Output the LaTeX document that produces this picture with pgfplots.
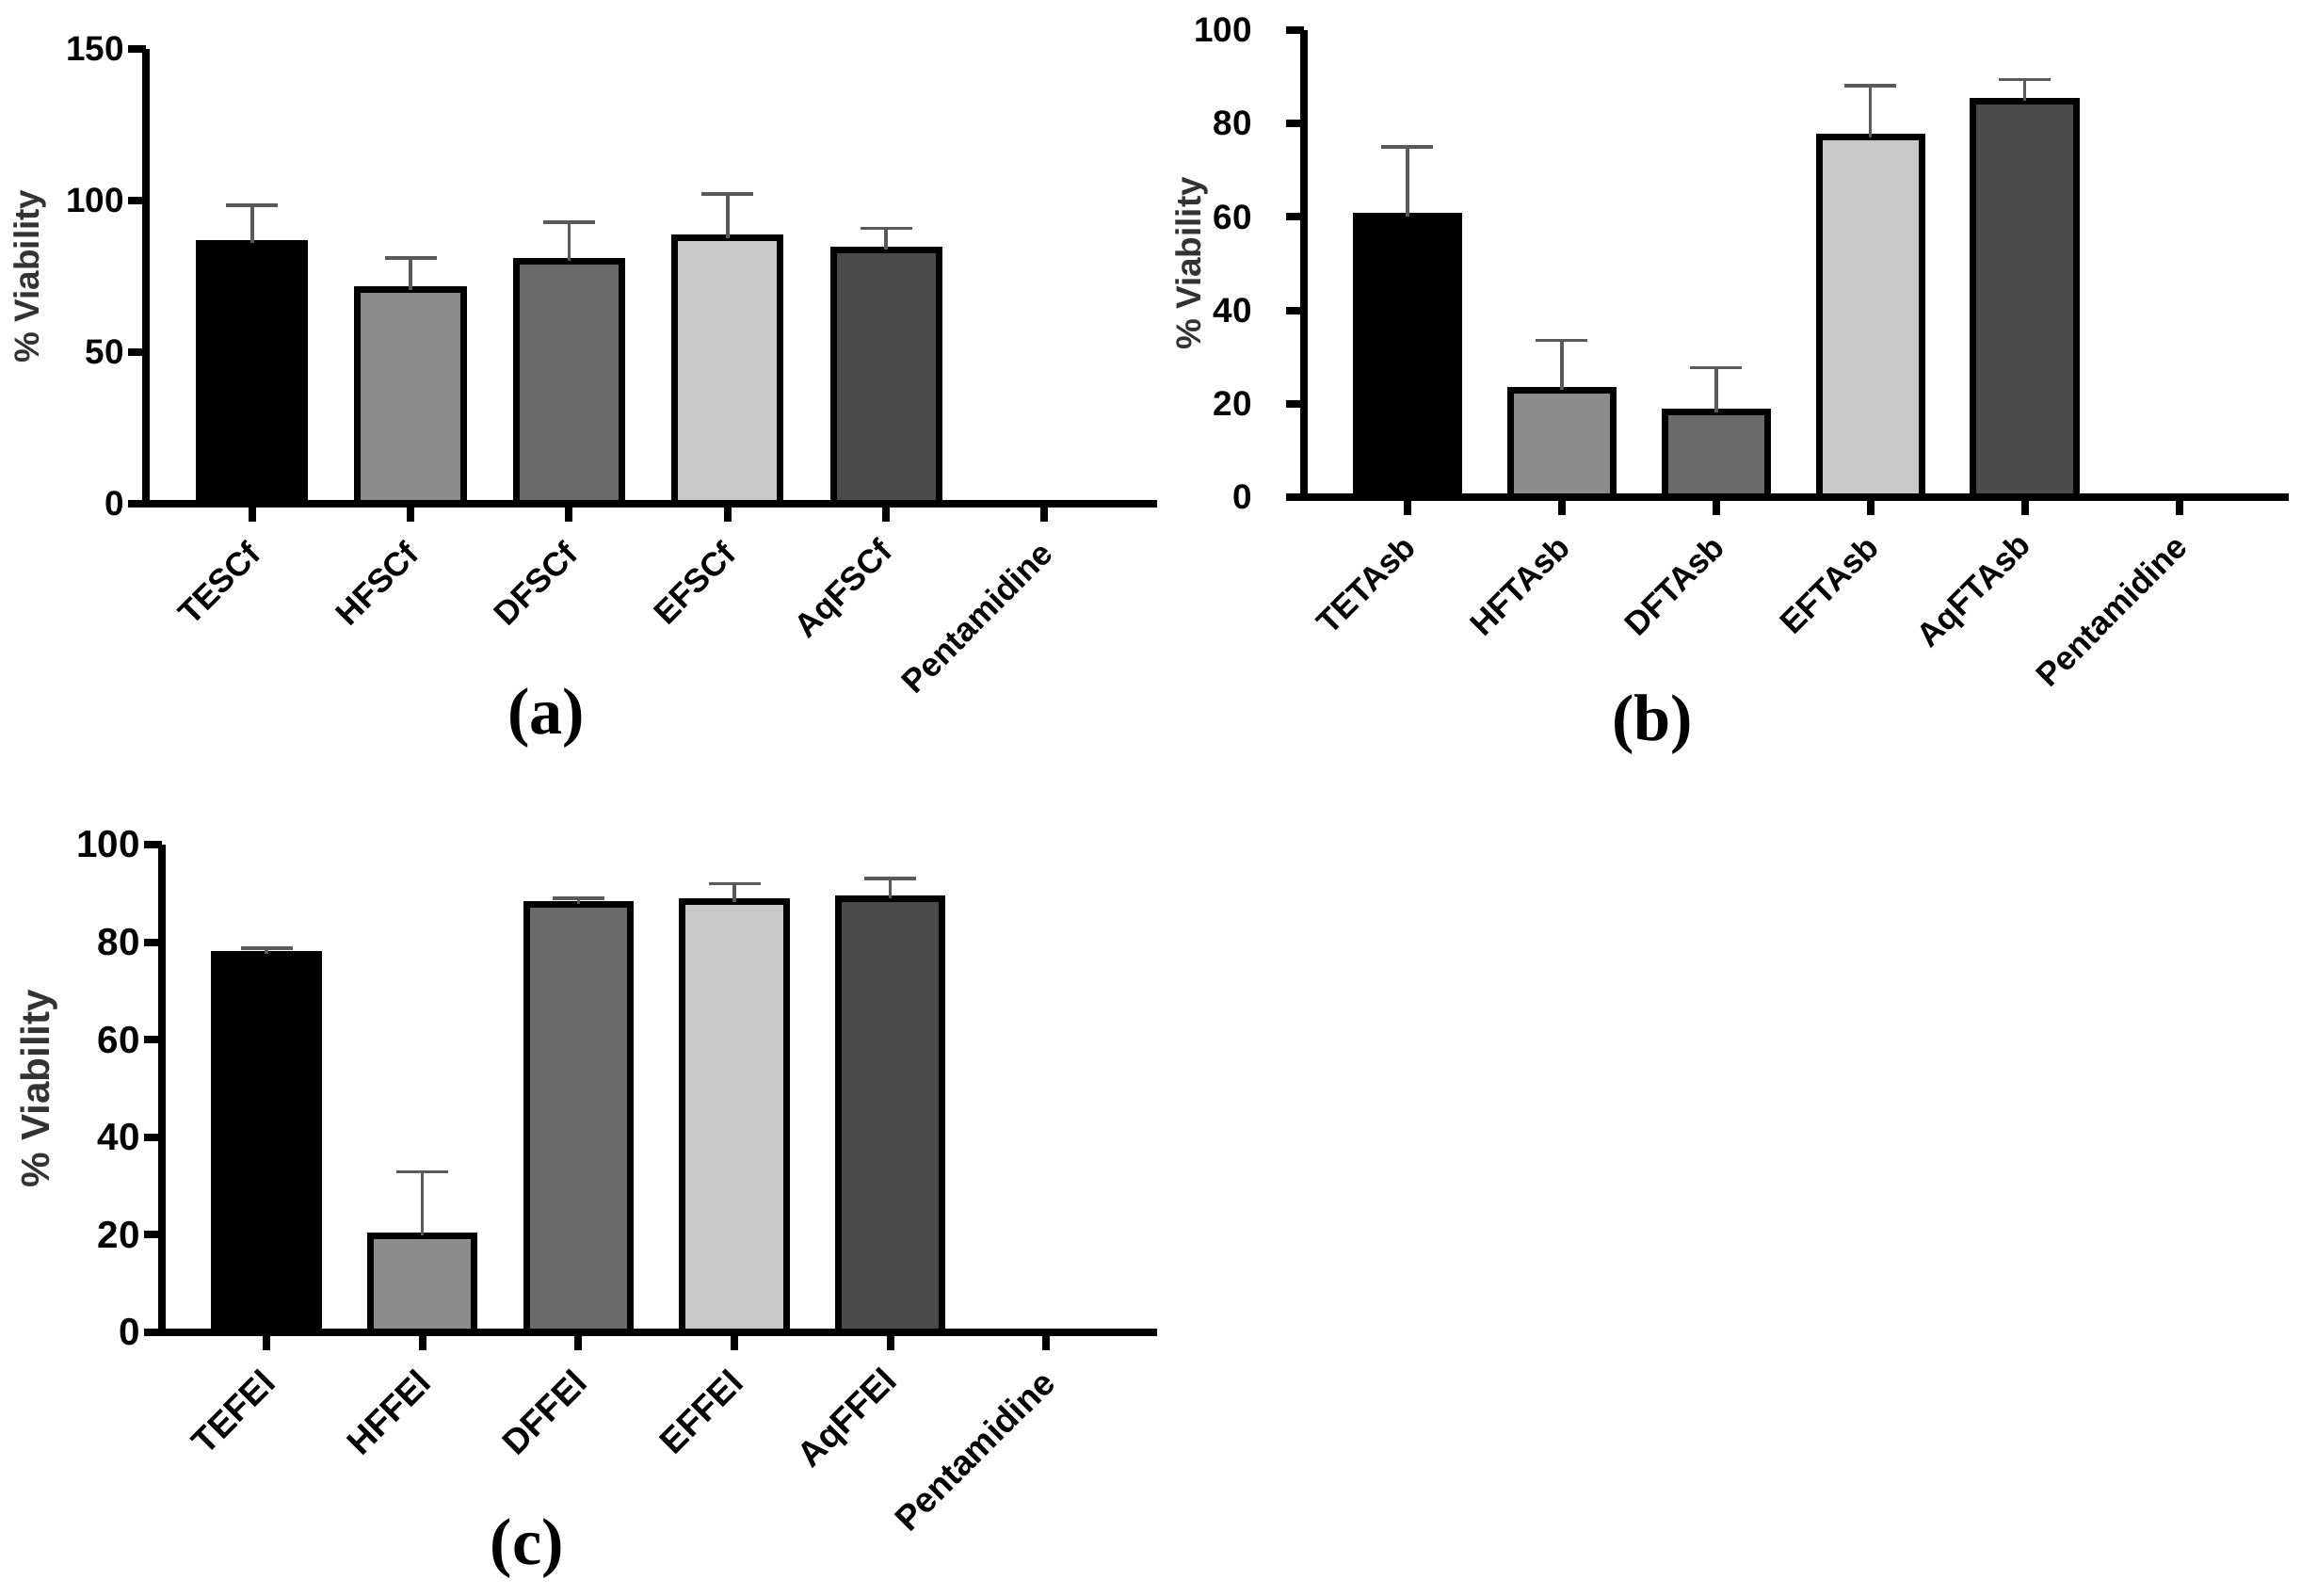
\documentclass[border=0pt]{standalone}
\usepackage{pgfplots}
\pgfplotsset{compat=1.18}
\usepackage{fontspec}
\setmainfont{Liberation Sans}
\newfontfamily\serifb{Liberation Serif}
\definecolor{cA}{HTML}{000000}
\definecolor{cB}{HTML}{8C8C8C}
\definecolor{cC}{HTML}{6A6A6A}
\definecolor{cD}{HTML}{C9C9C9}
\definecolor{cE}{HTML}{4A4A4A}
\definecolor{errc}{HTML}{5A5A5A}
\definecolor{labc}{HTML}{333333}
\pgfplotsset{
  panel/.style={
    scale only axis,
    anchor=south west,
    axis x line*=bottom, axis y line*=left,
    axis line style={line width=0.8mm, black},
    xmin=-0.67, xmax=5.71, ymin=0,
    xtick={0,1,2,3,4,5},
    tick align=outside,
    major tick length=1.9mm,
    every tick/.style={line width=0.8mm, black},
    x tick label style={xshift=0.5mm, yshift=-2.5mm, rotate=45, anchor=east, font=\fontsize{10}{12}\selectfont\bfseries, inner sep=1pt},
    y tick label style={font=\fontsize{10.5}{12}\selectfont\bfseries, inner sep=1pt},
    /pgf/number format/assume math mode=true,
    ylabel={\% Viability},
    clip=false,
  },
  ylab/.style 2 args={every axis y label/.style={at={(axis description cs:0,0.5)}, xshift=-#1, rotate=90, anchor=center, font=\fontsize{#2}{14}\selectfont\bfseries, color=labc}},
  barp/.style={ybar, bar shift=0pt, bar width=0.667, draw=black, line width=0.7mm, fill=#1,
    error bars/.cd, y dir=plus, y explicit,
    error bar style={line width=0.35mm, color=errc},
    error mark options={rotate=90, mark size=2.75mm, line width=0.35mm, color=errc}},
}
\begin{document}
\begin{tikzpicture}
\path[use as bounding box] (0,0) rectangle (244.4mm,169.5mm);
% (a)
\begin{axis}[panel, at={(15.5mm,116.0mm)}, width=107.4mm, height=48.3mm,
  ymax=150, ytick={0,50,100,150},
  xticklabels={TESCf,HFSCf,DFSCf,EFSCf,AqFSCf,Pentamidine},
  ylab={12.3mm}{10.5}]
\addplot[barp=cA] coordinates {(0,86.0) +- (0,12.4)};
\addplot[barp=cB] coordinates {(1,70.6) +- (0,10.4)};
\addplot[barp=cC] coordinates {(2,80.0) +- (0,12.8)};
\addplot[barp=cD] coordinates {(3,87.6) +- (0,14.6)};
\addplot[barp=cE] coordinates {(4,83.7) +- (0,7.1)};
\end{axis}
% (b)
\begin{axis}[panel, at={(138.5mm,116.7mm)}, width=104.6mm, height=49.6mm,
  ymax=100, ytick={0,20,40,60,80,100},
  y tick label style={xshift=-3.2mm},
  xticklabels={TETAsb,HFTAsb,DFTAsb,EFTAsb,AqFTAsb,Pentamidine},
  ylab={11.9mm}{10.5}]
\addplot[barp=cA] coordinates {(0,60.1) +- (0,14.9)};
\addplot[barp=cB] coordinates {(1,22.9) +- (0,10.7)};
\addplot[barp=cC] coordinates {(2,18.2) +- (0,9.5)};
\addplot[barp=cD] coordinates {(3,77.1) +- (0,11.0)};
\addplot[barp=cE] coordinates {(4,84.8) +- (0,4.6)};
\end{axis}
% (c)
\begin{axis}[panel, at={(17.2mm,28.0mm)}, width=105.7mm, height=51.8mm,
  ymax=100, ytick={0,20,40,60,80,100},
  y tick label style={font=\fontsize{11.5}{13}\selectfont\bfseries},
  x tick label style={font=\fontsize{10.6}{12}\selectfont\bfseries},
  xticklabels={TEFEl,HFFEl,DFFEl,EFFEl,AqFFEl,Pentamidine},
  ylab={13.0mm}{12}]
\addplot[barp=cA] coordinates {(0,77.6) +- (0,1.2)};
\addplot[barp=cB] coordinates {(1,19.8) +- (0,13.1)};
\addplot[barp=cC] coordinates {(2,87.8) +- (0,1.2)};
\addplot[barp=cD] coordinates {(3,88.3) +- (0,3.7)};
\addplot[barp=cE] coordinates {(4,88.9) +- (0,4.1)};
\end{axis}
\node[font=\serifb\fontsize{20}{24}\selectfont\bfseries] at (58.0mm,93.2mm) {(a)};
\node[font=\serifb\fontsize{20}{24}\selectfont\bfseries] at (175.5mm,92.5mm) {(b)};
\node[font=\serifb\fontsize{20}{24}\selectfont\bfseries] at (56.0mm,5.0mm) {(c)};
\end{tikzpicture}
\end{document}
